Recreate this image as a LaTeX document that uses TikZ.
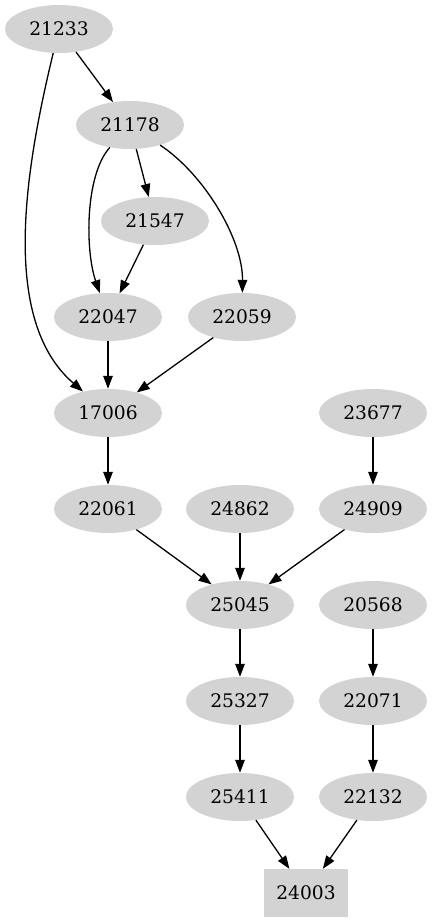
\documentclass[tikz,border=0pt]{standalone}
\usepackage{fontspec}
\setmainfont{DejaVu Serif}
\usetikzlibrary{shapes.geometric,arrows.meta}
\definecolor{nodegray}{HTML}{D3D3D3}
\begin{document}
\begin{tikzpicture}[x=1pt,y=-1pt,
  ell/.style={ellipse,fill=nodegray,draw=none,minimum width=108pt,minimum height=48pt,inner sep=0pt,font=\fontsize{18.67}{22}\selectfont},
  sq/.style={rectangle,fill=nodegray,draw=none,minimum width=84pt,minimum height=48pt,inner sep=0pt,font=\fontsize{18.67}{22}\selectfont},
  edge/.style={draw=black,line width=1.3pt,-{Triangle[length=13pt,width=9.5pt]}}]
\useasboundingbox (0,0) rectangle (431,923);
\node[ell] (n21233) at (59,29) {21233};
\node[ell] (n21178) at (130,125) {21178};
\node[ell] (n21547) at (155,221) {21547};
\node[ell] (n22047) at (108,317) {22047};
\node[ell] (n22059) at (242,317) {22059};
\node[ell] (n17006) at (108,413) {17006};
\node[ell] (n23677) at (373,413) {23677};
\node[ell] (n22061) at (108,509) {22061};
\node[ell] (n24862) at (240,509) {24862};
\node[ell] (n24909) at (373,509) {24909};
\node[ell] (n25045) at (240,605) {25045};
\node[ell] (n20568) at (373,605) {20568};
\node[ell] (n25327) at (240,701) {25327};
\node[ell] (n22071) at (373,701) {22071};
\node[ell] (n25411) at (240,797) {25411};
\node[ell] (n22132) at (373,797) {22132};
\node[sq] (n24003) at (306,893) {24003};

\draw[edge] (n21233) -- (n21178);
\draw[edge] (n21233) .. controls (25,170) and (0,320) .. (n17006);
\draw[edge] (n21178) -- (n21547);
\draw[edge] (n21178) .. controls (85,175) and (85,250) .. (n22047);
\draw[edge] (n21178) .. controls (205,175) and (243,240) .. (n22059);
\draw[edge] (n21547) -- (n22047);
\draw[edge] (n22047) -- (n17006);
\draw[edge] (n22059) -- (n17006);
\draw[edge] (n17006) -- (n22061);
\draw[edge] (n22061) -- (n25045);
\draw[edge] (n24862) -- (n25045);
\draw[edge] (n24909) -- (n25045);
\draw[edge] (n23677) -- (n24909);
\draw[edge] (n25045) -- (n25327);
\draw[edge] (n25327) -- (n25411);
\draw[edge] (n25411) -- (n24003);
\draw[edge] (n20568) -- (n22071);
\draw[edge] (n22071) -- (n22132);
\draw[edge] (n22132) -- (n24003);
\end{tikzpicture}
\end{document}
